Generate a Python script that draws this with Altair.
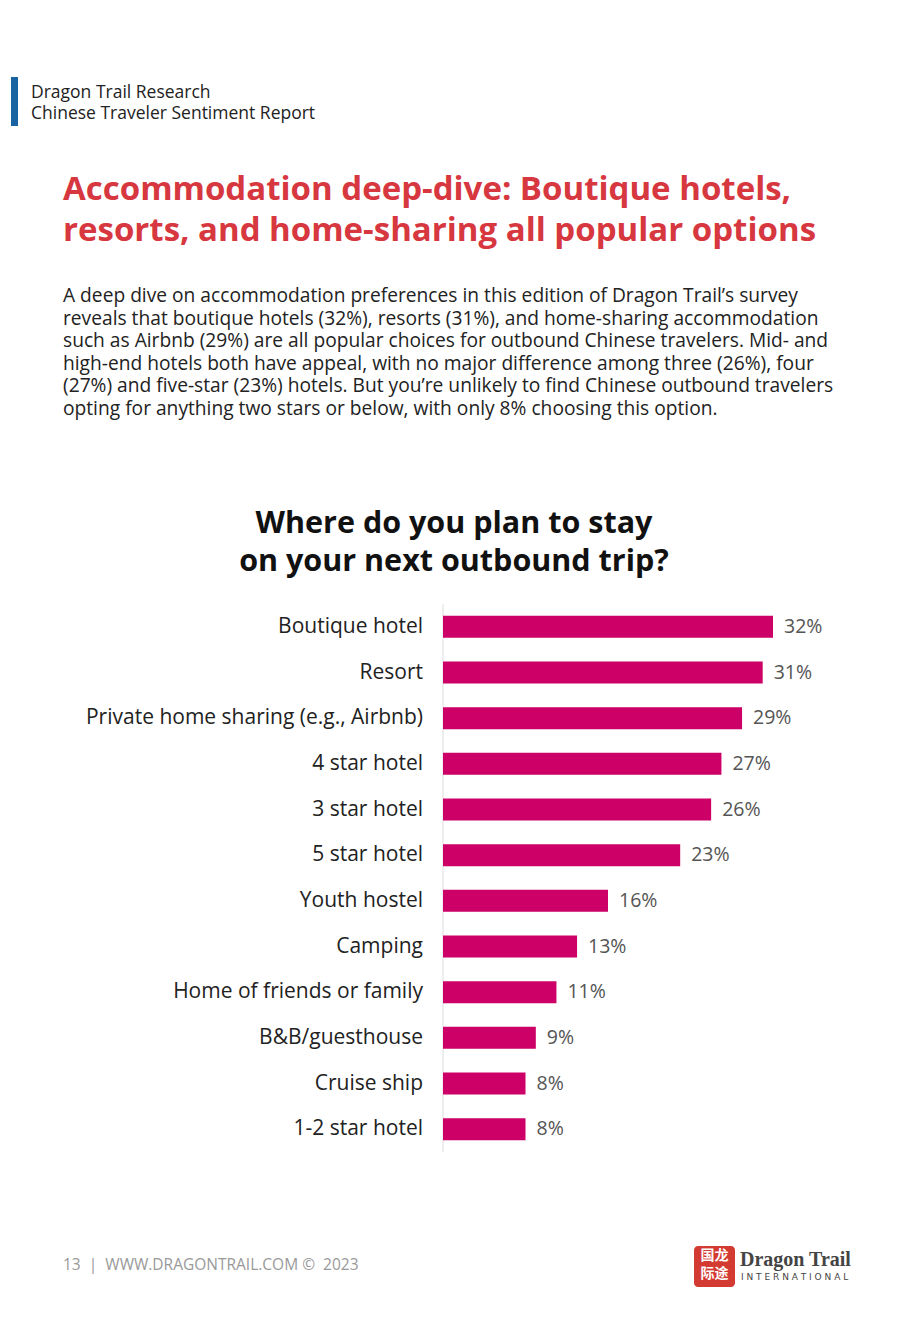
import altair as alt
import pandas as pd

categories = ["Boutique hotel", "Resort", "Private home sharing (e.g., Airbnb)",
              "4 star hotel", "3 star hotel", "5 star hotel", "Youth hostel",
              "Camping", "Home of friends or family", "B&B/guesthouse",
              "Cruise ship", "1-2 star hotel"]
values = [32, 31, 29, 27, 26, 23, 16, 13, 11, 9, 8, 8]

header_lines = ["Dragon Trail Research", "Chinese Traveler Sentiment Report"]
heading_lines = ["Accommodation deep-dive: Boutique hotels,",
                 "resorts, and home-sharing all popular options"]
para_lines = [
    "A deep dive on accommodation preferences in this edition of Dragon Trail\u2019s survey",
    "reveals that boutique hotels (32%), resorts (31%), and home-sharing accommodation",
    "such as Airbnb (29%) are all popular choices for outbound Chinese travelers. Mid- and",
    "high-end hotels both have appeal, with no major difference among three (26%), four",
    "(27%) and five-star (23%) hotels. But you\u2019re unlikely to find Chinese outbound travelers",
    "opting for anything two stars or below, with only 8% choosing this option.",
]
chart_title = ["Where do you plan to stay", "on your next outbound trip?"]
footer = "13\u00a0\u00a0|\u00a0\u00a0WWW.DRAGONTRAIL.COM\u00a0\u00a9\u00a0\u00a02023"

FONT = "Open Sans"

df = pd.DataFrame({"category": categories, "value": values,
                   "label": [f"{v}%" for v in values]})
one = pd.DataFrame({"a": [0]})

xs = alt.Scale(domain=[0, 32], range=[443, 773])
ys = alt.Scale(domain=categories, range=[604, 1152], paddingInner=0.52, paddingOuter=0.26)

base = alt.Chart(df)
bars = base.mark_bar(color="#CC0066").encode(
    x=alt.X("value:Q", scale=xs, axis=None),
    y=alt.Y("category:N", scale=ys, axis=None, sort=categories),
)
vals = base.mark_text(align="left", baseline="middle", dx=11, font=FONT,
                      fontSize=19.5, color="#555555").encode(
    x=alt.X("value:Q", scale=xs, axis=None),
    y=alt.Y("category:N", scale=ys, axis=None, sort=categories),
    text="label:N",
)
cats = base.mark_text(align="right", baseline="middle", font=FONT,
                      fontSize=21, color="#222222").encode(
    x=alt.value(423),
    y=alt.Y("category:N", scale=ys, axis=None, sort=categories),
    text="category:N",
)
axis_line = alt.Chart(one).mark_rule(color="#DDDDDD", strokeWidth=1).encode(
    x=alt.value(443), y=alt.value(604), y2=alt.value(1152))

def txt(lines, x, y, size, color, weight="normal", align="left", lh=None, font=FONT, baseline="top"):
    kw = dict(align=align, baseline=baseline, font=font, fontSize=size,
              color=color, fontWeight=weight)
    if lh is not None:
        kw["lineHeight"] = lh
    return alt.Chart(one).mark_text(**kw).encode(
        x=alt.value(x), y=alt.value(y), text=alt.value(lines))

blue_bar = alt.Chart(one).mark_rect(color="#1A63A3").encode(
    x=alt.value(11), x2=alt.value(18), y=alt.value(77), y2=alt.value(126))
header = txt(header_lines, 31, 84, 17.5, "#222222", lh=20.5)
heading = txt(heading_lines, 63, 174, 33, "#D7373F", weight="bold", lh=41)
para = txt(para_lines, 63, 287, 19.2, "#222222", lh=22.6)
ctitle = txt(chart_title, 454, 509, 30.5, "#111111", weight="bold", align="center", lh=38)
foot = txt(footer, 63, 1258, 15.5, "#999999")

logo_box = alt.Chart(one).mark_rect(color="#D33A31", cornerRadius=4).encode(
    x=alt.value(694), x2=alt.value(735), y=alt.value(1246), y2=alt.value(1287))
logo_cn = txt(["国龙", "际途"], 714.5, 1249, 14, "#FFFFFF", weight="bold",
              align="center", lh=18, font="Noto Sans CJK SC")
logo_name = txt("Dragon Trail", 740, 1250, 20, "#444444", weight="bold", font="Liberation Serif")
logo_sub = txt("I N T E R N A T I O N A L", 741, 1273, 9, "#444444", font="DejaVu Sans")

chart = alt.layer(
    blue_bar, header, heading, para, ctitle,
    axis_line, bars, vals, cats, foot, logo_box, logo_cn, logo_name, logo_sub
).properties(
    width=920, height=1329, autosize=alt.AutoSizeParams(type="none"),
    padding=0, background="white",
).configure_view(stroke=None)

chart.save("out.html", embed_options={"renderer": "svg", "actions": False})
